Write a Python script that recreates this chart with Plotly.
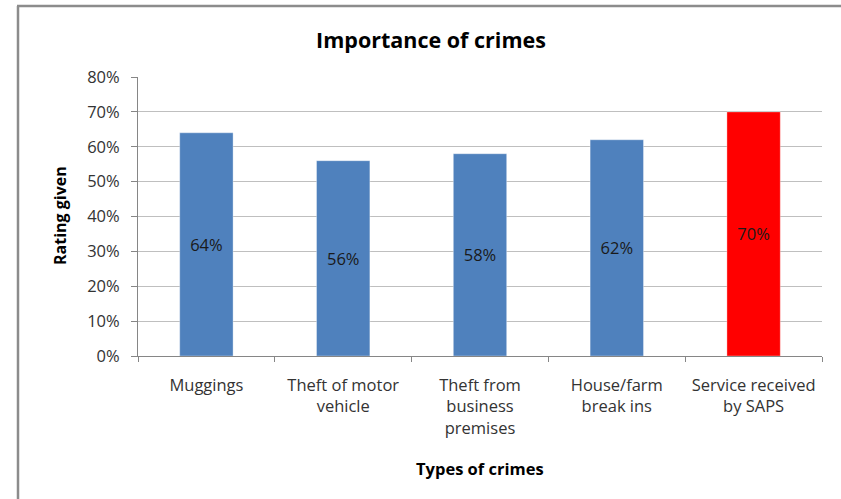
import plotly.graph_objects as go

# Chart data
categories = [
    "Muggings",
    "Theft of motor<br>vehicle",
    "Theft from<br>business<br>premises",
    "House/farm<br>break ins",
    "Service received<br>by SAPS",
]
ratings = [0.64, 0.56, 0.58, 0.62, 0.70]
bar_colors = ["#4F81BD", "#4F81BD", "#4F81BD", "#4F81BD", "#FF0000"]
y_ticks = [0, 0.1, 0.2, 0.3, 0.4, 0.5, 0.6, 0.7, 0.8]

FONT = "'Open Sans', Lato, sans-serif"
W, H = 841, 499
L, R, T, B = 138, 19, 77, 143
plot_w = W - L - R
plot_h = H - T - B

fig = go.Figure()
fig.add_trace(
    go.Bar(
        x=categories,
        y=ratings,
        marker=dict(color=bar_colors, line=dict(color="rgba(255,255,255,0.35)", width=1)),
        width=0.39,
        text=[f"{v:.0%}" for v in ratings],
        texttemplate="%{text}",
        textposition="inside",
        insidetextanchor="middle",
        textfont=dict(family=FONT, size=16.5, color="#1a1a1a"),
        textangle=0,
        hoverinfo="x+y",
    )
)


def px_x(px):
    return (px - L) / plot_w


def px_y(py):
    return (H - B - py) / plot_h


fig.update_layout(
    width=W,
    height=H,
    margin=dict(l=L, r=R, t=T, b=B),
    paper_bgcolor="white",
    plot_bgcolor="white",
    showlegend=False,
    bargap=0.61,
    font=dict(family=FONT, size=16.5, color="#333333"),
    title=dict(
        text="<b>Importance of crimes</b>",
        x=431 / W,
        xanchor="center",
        y=1 - 40 / H,
        yanchor="middle",
        yref="container",
        xref="container",
        font=dict(family=FONT, size=21.5, color="#000000"),
    ),
    xaxis=dict(
        type="category",
        tickson="boundaries",
        ticks="outside",
        ticklen=5,
        tickcolor="#868686",
        tickwidth=1,
        showline=True,
        linecolor="#868686",
        linewidth=1,
        showgrid=False,
        ticklabelstandoff=14,
        tickfont=dict(family=FONT, size=16.5, color="#333333"),
    ),
    yaxis=dict(
        range=[0, 0.8],
        tickvals=y_ticks,
        tickformat=".0%",
        ticks="outside",
        ticklen=6,
        tickcolor="#868686",
        showline=True,
        linecolor="#868686",
        linewidth=1,
        showgrid=True,
        gridcolor="#BFBFBF",
        gridwidth=1,
        zeroline=False,
        ticklabelstandoff=8,
        tickfont=dict(family=FONT, size=16.5, color="#333333"),
    ),
    annotations=[
        dict(
            text="<b>Types of crimes</b>",
            xref="paper",
            yref="paper",
            x=px_x(480),
            y=px_y(468),
            xanchor="center",
            yanchor="middle",
            showarrow=False,
            font=dict(family=FONT, size=16.5, color="#000000"),
        ),
        dict(
            text="<b>Rating given</b>",
            xref="paper",
            yref="paper",
            x=px_x(60),
            y=px_y(216),
            xanchor="center",
            yanchor="middle",
            textangle=-90,
            showarrow=False,
            font=dict(family=FONT, size=16, color="#000000"),
        ),
    ],
    shapes=[
        # Outer frame (left and top edges)
        dict(
            type="line", xref="paper", yref="paper",
            x0=px_x(18), x1=px_x(18), y0=px_y(6), y1=px_y(H + 5),
            line=dict(color="#8C8C8C", width=2.5),
        ),
        dict(
            type="line", xref="paper", yref="paper",
            x0=px_x(17), x1=px_x(W + 5), y0=px_y(6), y1=px_y(6),
            line=dict(color="#8C8C8C", width=2.5),
        ),
    ],
)

fig.write_html("out.html")
